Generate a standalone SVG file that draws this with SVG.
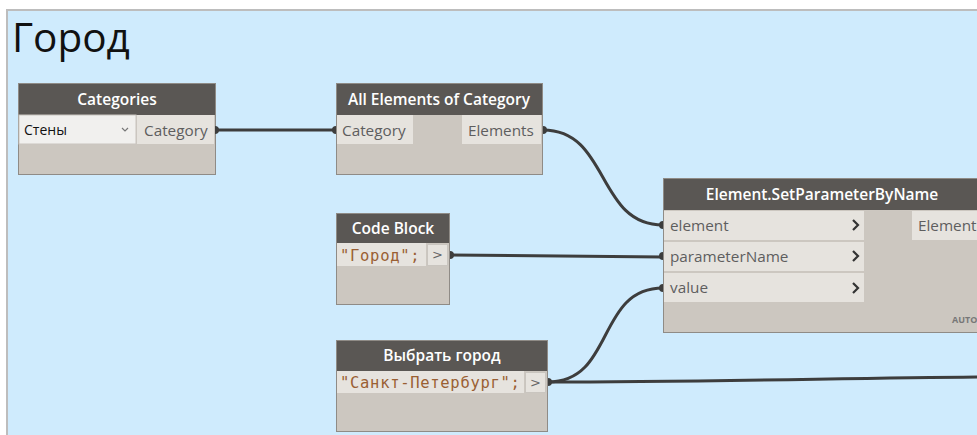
<svg xmlns="http://www.w3.org/2000/svg" width="977" height="435" viewBox="0 0 977 435">
  <style>
    .hdr { fill: #5a5754; }
    .body { fill: #ccc7c0; stroke: #8f8b86; stroke-width: 1; }
    .port { fill: #e6e3de; }
    .htxt { font-family: "Open Sans", "Noto Sans", sans-serif; font-weight: 600; font-size: 15.5px; fill: #ffffff; text-anchor: middle; }
    .ptxt { font-family: "Open Sans", "Noto Sans", sans-serif; font-size: 15.3px; fill: #5e5e5e; }
    .code { font-family: "DejaVu Sans Mono", "Liberation Mono", monospace; font-size: 15.5px; letter-spacing: 0.7px; fill: #9a5f33; }
    .btn { fill: #e6e3de; stroke: #c9c5bf; stroke-width: 1; }
    .gt { font-family: "DejaVu Sans", sans-serif; font-size: 13px; fill: #666; text-anchor: middle; }
    .chev { fill: none; stroke: #333; stroke-width: 2.2; }
    .wire { fill: none; stroke: #3d3d3d; stroke-width: 3; }
    .dot { fill: #3d3d3d; }
  </style>

  <rect x="0" y="0" width="977" height="435" fill="#ffffff"/>
  <!-- group background -->
  <rect x="7" y="10" width="975" height="430" fill="#cfebfd" stroke="#bdbdbd" stroke-width="2"/>
  <text x="12" y="52" font-family="Open Sans, Noto Sans, sans-serif" font-size="40.5" fill="#111">Город</text>

  <g id="connectors">
    <path class="wire" d="M215,130 L336,130"/>
    <path class="wire" d="M543,130 C610,130 596,225 663,225"/>
    <path class="wire" d="M450,255 L663,257"/>
    <path class="wire" d="M548,382 C615,382 596,288 663,288"/>
    <path class="wire" d="M548,382 C700,382 850,378 980,377"/>
  </g>

  <g id="categories">
    <rect class="body" x="18.5" y="83.5" width="197" height="91"/>
    <rect class="hdr" x="19" y="84" width="196" height="31"/>
    <text class="htxt" x="117" y="105">Categories</text>
    <rect x="19" y="115" width="117" height="29" fill="#f1f0ee" stroke="#c9c5bf"/>
    <text x="24" y="135" font-family="Open Sans, Noto Sans, sans-serif" font-size="14" fill="#111">Стены</text>
    <path d="M122,128 l3,3 l3,-3" fill="none" stroke="#777" stroke-width="1.2"/>
    <rect class="port" x="137" y="115" width="77" height="29"/>
    <text class="ptxt" x="144" y="136">Category</text>
    <path class="dot" d="M215,126 a4,4 0 0 1 0,8 z"/>
  </g>

  <g id="all-elements">
    <rect class="body" x="336.5" y="83.5" width="206" height="91"/>
    <rect class="hdr" x="337" y="84" width="205" height="31"/>
    <text class="htxt" x="439" y="105">All Elements of Category</text>
    <rect class="port" x="337" y="115" width="76" height="29"/>
    <text class="ptxt" x="342" y="136">Category</text>
    <rect class="port" x="462" y="115" width="79" height="29"/>
    <text class="ptxt" x="468" y="136">Elements</text>
    <path class="dot" d="M336,126 a4,4 0 0 0 0,8 z"/>
    <path class="dot" d="M543,126 a4,4 0 0 1 0,8 z"/>
  </g>

  <g id="code-block">
    <rect class="body" x="336.5" y="213.5" width="113" height="91"/>
    <rect class="hdr" x="337" y="214" width="112" height="29"/>
    <text class="htxt" x="393" y="234">Code Block</text>
    <rect class="port" x="337" y="243" width="89" height="23"/>
    <text class="code" x="340" y="261">"Город";</text>
    <rect class="btn" x="427.5" y="244.5" width="20" height="21"/>
    <text class="gt" x="437.5" y="259">&gt;</text>
    <path class="dot" d="M450,251 a4,4 0 0 1 0,8 z"/>
  </g>

  <g id="choose-city">
    <rect class="body" x="336.5" y="340.5" width="211" height="91"/>
    <rect class="hdr" x="337" y="341" width="210" height="30"/>
    <text class="htxt" x="442" y="361">Выбрать город</text>
    <rect class="port" x="337" y="371" width="187" height="22"/>
    <text class="code" x="340" y="388">"Санкт-Петербург";</text>
    <rect class="btn" x="525.5" y="372.5" width="20" height="20"/>
    <text class="gt" x="535.5" y="387">&gt;</text>
    <path class="dot" d="M548,378 a4,4 0 0 1 0,8 z"/>
  </g>

  <g id="set-parameter">
    <rect class="body" x="663.5" y="178.5" width="330" height="154"/>
    <rect class="hdr" x="664" y="179" width="330" height="31"/>
    <text class="htxt" x="822" y="200">Element.SetParameterByName</text>
    <rect class="port" x="664" y="211" width="200" height="29"/>
    <text class="ptxt" x="670" y="231">element</text>
    <path class="chev" d="M853,220 l5,5 l-5,5"/>
    <rect class="port" x="664" y="242" width="200" height="29"/>
    <text class="ptxt" x="670" y="262">parameterName</text>
    <path class="chev" d="M853,251 l5,5 l-5,5"/>
    <rect class="port" x="664" y="273" width="200" height="29"/>
    <text class="ptxt" x="670" y="293">value</text>
    <path class="chev" d="M853,283 l5,5 l-5,5"/>
    <rect class="port" x="912" y="211" width="70" height="29"/>
    <text class="ptxt" x="918" y="231">Element</text>
    <text x="952" y="323" font-family="Open Sans, Noto Sans, sans-serif" font-size="9" font-weight="700" fill="#777">AUTO</text>
    <path class="dot" d="M663,221 a4,4 0 0 0 0,8 z"/>
    <path class="dot" d="M663,252 a4,4 0 0 0 0,8 z"/>
    <path class="dot" d="M663,284 a4,4 0 0 0 0,8 z"/>
  </g>
</svg>
